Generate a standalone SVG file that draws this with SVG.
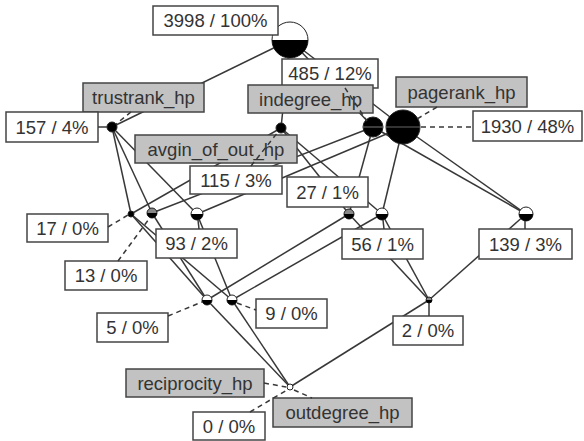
<svg xmlns="http://www.w3.org/2000/svg" width="584" height="441" viewBox="0 0 584 441">
<style>
.e{stroke:#383838;stroke-width:1.5;fill:none}
.d{stroke:#383838;stroke-width:1.5;fill:none;stroke-dasharray:5,4}
.w{fill:#fff;stroke:#444;stroke-width:1.5}
.g{fill:#c2c2c2;stroke:#444;stroke-width:1.5}
.t{font-family:"Liberation Sans",Arial,sans-serif;font-size:18.5px;fill:#333;text-anchor:middle}
.nw{fill:#fff;stroke:#222;stroke-width:1}
.nb{fill:#000;stroke:#222;stroke-width:1}
.ng{fill:#888;stroke:#222;stroke-width:1}
.mid{stroke:#666;stroke-width:1.2}
</style>
<rect width="584" height="441" fill="#fff"/>
<g id="connectors">
<line class="e" x1="290" y1="40" x2="112" y2="127"/>
<line class="e" x1="290" y1="40" x2="281" y2="128"/>
<line class="e" x1="290" y1="40" x2="373" y2="127"/>
<line class="e" x1="290" y1="40" x2="403" y2="127"/>
<line class="e" x1="112" y1="127" x2="131" y2="214"/>
<line class="e" x1="112" y1="127" x2="152" y2="213"/>
<line class="e" x1="112" y1="127" x2="197" y2="214"/>
<line class="e" x1="281" y1="128" x2="131" y2="214"/>
<line class="e" x1="281" y1="128" x2="349" y2="214"/>
<line class="e" x1="281" y1="128" x2="382" y2="214"/>
<line class="e" x1="373" y1="127" x2="152" y2="213"/>
<line class="e" x1="373" y1="127" x2="349" y2="214"/>
<line class="e" x1="373" y1="127" x2="526" y2="214"/>
<line class="e" x1="403" y1="127" x2="197" y2="214"/>
<line class="e" x1="403" y1="127" x2="382" y2="214"/>
<line class="e" x1="403" y1="127" x2="526" y2="214"/>
<line class="e" x1="131" y1="214" x2="207" y2="300"/>
<line class="e" x1="131" y1="214" x2="232" y2="300"/>
<line class="e" x1="152" y1="213" x2="207" y2="300"/>
<line class="e" x1="197" y1="214" x2="232" y2="300"/>
<line class="e" x1="349" y1="214" x2="207" y2="300"/>
<line class="e" x1="349" y1="214" x2="429" y2="300"/>
<line class="e" x1="382" y1="214" x2="232" y2="300"/>
<line class="e" x1="382" y1="214" x2="429" y2="300"/>
<line class="e" x1="526" y1="214" x2="429" y2="300"/>
<line class="e" x1="207" y1="300" x2="290" y2="387"/>
<line class="e" x1="232" y1="300" x2="290" y2="387"/>
<line class="e" x1="429" y1="300" x2="290" y2="387"/>
</g>
<g id="n-top"><circle class="nw" cx="290" cy="40" r="18"/><path d="M272 40 A18 18 0 0 0 308 40 Z" fill="#000"/></g>
<g id="n-trustrank"><circle class="nb" cx="112" cy="127" r="5"/></g>
<g id="n-avgin"><circle class="nb" cx="281" cy="128" r="5"/></g>
<g id="n-indegree"><circle class="nb" cx="373" cy="127" r="10"/><line class="mid" x1="363" y1="127" x2="383" y2="127"/></g>
<g id="n-pagerank"><circle class="nb" cx="403" cy="127" r="17"/><line class="mid" x1="386" y1="127" x2="420" y2="127"/></g>
<g id="n-d1"><circle class="nb" cx="131" cy="214" r="3"/></g>
<g id="n-d2"><circle class="ng" cx="152" cy="213" r="5"/><path d="M147 213 A5 5 0 0 0 157 213 Z" fill="#000"/></g>
<g id="n-d3"><circle class="nw" cx="197" cy="214" r="6"/><path d="M191 214 A6 6 0 0 0 203 214 Z" fill="#000"/></g>
<g id="n-d4"><circle class="ng" cx="349" cy="214" r="5"/><path d="M344 214 A5 5 0 0 0 354 214 Z" fill="#000"/></g>
<g id="n-d5"><circle class="nw" cx="382" cy="214" r="6"/><path d="M376 214 A6 6 0 0 0 388 214 Z" fill="#000"/></g>
<g id="n-d6"><circle class="nw" cx="526" cy="214" r="7"/><path d="M519 214 A7 7 0 0 0 533 214 Z" fill="#000"/></g>
<g id="n-l1"><circle class="nw" cx="207" cy="300" r="5"/><path d="M202 300 A5 5 0 0 0 212 300 Z" fill="#000"/></g>
<g id="n-l2"><circle class="nw" cx="232" cy="300" r="5"/><path d="M227 300 A5 5 0 0 0 237 300 Z" fill="#000"/></g>
<g id="n-l3"><circle class="ng" cx="429" cy="300" r="3"/><path d="M426 300 A3 3 0 0 0 432 300 Z" fill="#000"/></g>
<g id="n-bottom"><circle class="nw" cx="290" cy="387" r="3"/></g>
<g id="labels">
<g id="l-3998"><rect class="w" x="153" y="6" width="125" height="29"/><text class="t" x="215.5" y="27">3998 / 100%</text></g>
<g id="l-485"><rect class="w" x="282" y="59" width="96" height="29"/><text class="t" x="330" y="80">485 / 12%</text></g>
<g id="l-trustrank"><rect class="g" x="83" y="83" width="121" height="29"/><text class="t" x="143.5" y="104">trustrank_hp</text></g>
<g id="l-157"><rect class="w" x="6" y="112" width="92" height="30"/><text class="t" x="52" y="133.5">157 / 4%</text></g>
<g id="l-indegree"><rect class="g" x="248" y="85" width="125" height="28"/><text class="t" x="310.5" y="105.5">indegree_hp</text></g>
<g id="l-pagerank"><rect class="g" x="396" y="77" width="131" height="30"/><text class="t" x="461.5" y="98.5">pagerank_hp</text></g>
<g id="l-1930"><rect class="w" x="473" y="111" width="109" height="30"/><text class="t" x="527.5" y="132.5">1930 / 48%</text></g>
<g id="l-avgin"><rect class="g" x="135" y="135" width="162" height="28"/><text class="t" x="216" y="155.5">avgin_of_out_hp</text></g>
<g id="l-115"><rect class="w" x="190" y="166" width="92" height="28"/><text class="t" x="236" y="186.5">115 / 3%</text></g>
<g id="l-27"><rect class="w" x="287" y="177" width="81" height="30"/><text class="t" x="327.5" y="198.5">27 / 1%</text></g>
<g id="l-17"><rect class="w" x="27" y="214" width="81" height="28"/><text class="t" x="67.5" y="234.5">17 / 0%</text></g>
<g id="l-93"><rect class="w" x="156" y="229" width="81" height="29"/><text class="t" x="196.5" y="250">93 / 2%</text></g>
<g id="l-13"><rect class="w" x="65" y="261" width="82" height="29"/><text class="t" x="106" y="282">13 / 0%</text></g>
<g id="l-56"><rect class="w" x="342" y="229" width="81" height="30"/><text class="t" x="382.5" y="250.5">56 / 1%</text></g>
<g id="l-139"><rect class="w" x="479" y="229" width="93" height="30"/><text class="t" x="525.5" y="250.5">139 / 3%</text></g>
<g id="l-5"><rect class="w" x="97" y="313" width="71" height="29"/><text class="t" x="132.5" y="334">5 / 0%</text></g>
<g id="l-9"><rect class="w" x="256" y="299" width="71" height="29"/><text class="t" x="291.5" y="320">9 / 0%</text></g>
<g id="l-2"><rect class="w" x="393" y="316" width="70" height="29"/><text class="t" x="428" y="337">2 / 0%</text></g>
<g id="l-reciprocity"><rect class="g" x="126" y="369" width="138" height="28"/><text class="t" x="195" y="389.5">reciprocity_hp</text></g>
<g id="l-outdegree"><rect class="g" x="273" y="398" width="139" height="29"/><text class="t" x="342.5" y="419">outdegree_hp</text></g>
<g id="l-0"><rect class="w" x="193" y="412" width="72" height="28"/><text class="t" x="229" y="432.5">0 / 0%</text></g>
</g>
<g id="leaders">
<line class="d" x1="421" y1="127" x2="473" y2="127"/>
<line class="d" x1="437" y1="107" x2="417" y2="119"/>
<line class="d" x1="345" y1="88" x2="367" y2="121"/>
<line class="d" x1="251" y1="166" x2="278" y2="132"/>
<line class="d" x1="131" y1="112" x2="116" y2="124"/>
<line class="e" x1="98" y1="127" x2="107" y2="127"/>
<line class="d" x1="108" y1="227" x2="128" y2="215"/>
<line class="d" x1="118" y1="261" x2="149" y2="219"/>
<line class="e" x1="198" y1="220" x2="199" y2="229"/>
<line class="e" x1="383" y1="220" x2="384" y2="229"/>
<line class="e" x1="525" y1="221" x2="525" y2="229"/>
<line class="d" x1="168" y1="316" x2="202" y2="302"/>
<line class="d" x1="237" y1="303" x2="256" y2="310"/>
<line class="e" x1="429" y1="303" x2="429" y2="316"/>
<line class="d" x1="250" y1="412" x2="287" y2="390"/>
<line class="d" x1="264" y1="383" x2="286" y2="387"/>
<line class="d" x1="294" y1="390" x2="312" y2="398"/>
</g>
</svg>
